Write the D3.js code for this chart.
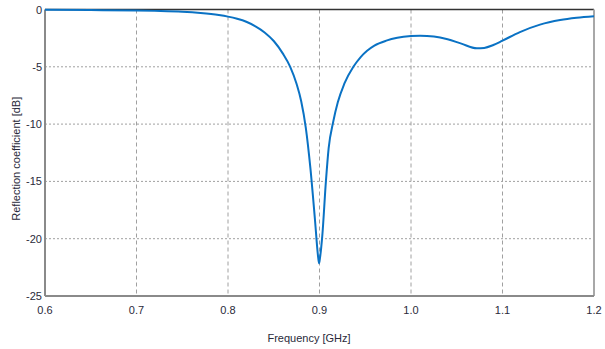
<!DOCTYPE html>
<html>
<head>
<meta charset="utf-8">
<script src="https://cdn.jsdelivr.net/npm/d3@7"></script>
<style>
  body { margin: 0; background: #fff; }
  text { font-family: "Liberation Sans", Arial, sans-serif; fill: #2a2a3a; }
</style>
</head>
<body>
<div id="chart"></div>
<script>
// frequency [GHz] and reflection coefficient [dB]
const freq = [0.6, 0.65, 0.7, 0.72, 0.75, 0.77, 0.79, 0.8, 0.81, 0.82, 0.83, 0.84, 0.85,
  0.86, 0.868, 0.875, 0.88, 0.885, 0.89, 0.895, 0.8985, 0.8995, 0.9005, 0.903, 0.907, 0.91,
  0.915, 0.92, 0.927, 0.937, 0.945, 0.952, 0.96, 0.973, 0.985, 1.0, 1.01, 1.025, 1.04, 1.055,
  1.072, 1.08, 1.09, 1.1, 1.119, 1.141, 1.163, 1.181, 1.2];
const s11 = [-0.02, -0.05, -0.09, -0.12, -0.19, -0.3, -0.48, -0.62, -0.81, -1.07, -1.47, -2.0, -2.75,
  -3.85, -5.0, -6.5, -8.0, -10.3, -13.8, -18.3, -21.6, -22.15, -21.7, -19.8, -15, -12.1,
  -9.8, -8.1, -6.5, -5.0, -4.15, -3.6, -3.15, -2.72, -2.47, -2.32, -2.29, -2.36, -2.6, -2.98,
  -3.38, -3.35, -3.1, -2.72, -1.97, -1.32, -0.92, -0.72, -0.58];

const xTicks = [0.6, 0.7, 0.8, 0.9, 1.0, 1.1, 1.2];
const yTicks = [0, -5, -10, -15, -20, -25];

const width = 605;
const height = 349;
const margin = { top: 9.5, right: 11, bottom: 53, left: 45 };

const svg = d3.select('#chart')
  .append('svg')
  .attr('width', width)
  .attr('height', height);

const x = d3.scaleLinear()
  .domain([0.6, 1.2])
  .range([margin.left, width - margin.right]);

const y = d3.scaleLinear()
  .domain([-25, 0])
  .range([height - margin.bottom, margin.top]);

// grid
svg.append('g')
  .selectAll('line')
  .data(xTicks.slice(1, -1))
  .enter()
  .append('line')
  .attr('x1', d => x(d)).attr('x2', d => x(d))
  .attr('y1', y(0)).attr('y2', y(-25))
  .attr('stroke', '#a0a0a0')
  .attr('stroke-dasharray', '4,3');

svg.append('g')
  .selectAll('line')
  .data(yTicks.slice(1, -1))
  .enter()
  .append('line')
  .attr('x1', x(0.6)).attr('x2', x(1.2))
  .attr('y1', d => y(d)).attr('y2', d => y(d))
  .attr('stroke', '#a0a0a0')
  .attr('stroke-dasharray', '2,2');

// frame
svg.append('line')
  .attr('x1', x(0.6)).attr('x2', x(1.2))
  .attr('y1', y(0)).attr('y2', y(0))
  .attr('stroke', '#333').attr('stroke-width', 1.5);
svg.append('line')
  .attr('x1', x(1.2)).attr('x2', x(1.2))
  .attr('y1', y(0)).attr('y2', y(-25))
  .attr('stroke', '#a8a8a8').attr('stroke-width', 2);
svg.append('line')
  .attr('x1', x(0.6)).attr('x2', x(1.2))
  .attr('y1', y(-25)).attr('y2', y(-25))
  .attr('stroke', '#8a8a8a').attr('stroke-width', 2);
svg.append('line')
  .attr('x1', x(0.6)).attr('x2', x(0.6))
  .attr('y1', y(0)).attr('y2', y(-25))
  .attr('stroke', '#8a8a8a').attr('stroke-width', 2);

// tick labels
svg.append('g')
  .selectAll('text')
  .data(xTicks)
  .enter()
  .append('text')
  .attr('x', d => x(d))
  .attr('y', y(-25) + 18)
  .attr('text-anchor', 'middle')
  .attr('font-size', '11px')
  .text(d => d.toFixed(1));

svg.append('g')
  .selectAll('text')
  .data(yTicks)
  .enter()
  .append('text')
  .attr('x', x(0.6) - 3)
  .attr('y', d => y(d) + 4)
  .attr('text-anchor', 'end')
  .attr('font-size', '11px')
  .text(d => d);

// axis titles
svg.append('text')
  .attr('x', 309)
  .attr('y', 342)
  .attr('text-anchor', 'middle')
  .attr('font-size', '11px')
  .text('Frequency [GHz]');

svg.append('text')
  .attr('transform', `translate(20,${(y(0) + y(-25)) / 2 + 6}) rotate(-90)`)
  .attr('text-anchor', 'middle')
  .attr('font-size', '11px')
  .text('Reflection coefficient [dB]');

// curve
const line = d3.line()
  .x((d, i) => x(freq[i]))
  .y(d => y(d))
  .curve(d3.curveMonotoneX);

svg.append('path')
  .datum(s11)
  .attr('d', line)
  .attr('fill', 'none')
  .attr('stroke', '#0a72c4')
  .attr('stroke-width', 2);
</script>
</body>
</html>
